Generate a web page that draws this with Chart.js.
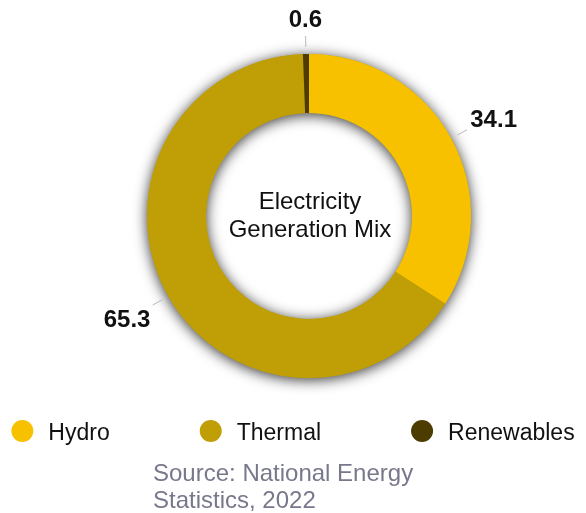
<!DOCTYPE html>
<html>
<head>
<meta charset="utf-8">
<title>Electricity Generation Mix</title>
<script src="https://cdn.jsdelivr.net/npm/chart.js@4.4.1/dist/chart.umd.min.js"></script>
<style>
  html, body { margin: 0; padding: 0; background: #fff; }
  #wrap { width: 586px; height: 513px; position: relative; }
</style>
</head>
<body>
<div id="wrap"><canvas id="mix"></canvas></div>
<script>
const labels = ['Hydro', 'Thermal', 'Renewables'];
const shares = [34.1, 65.3, 0.6];
const colors = ['#f8c100', '#bf9e06', '#4d3c00'];
const centerLines = ['Electricity', 'Generation Mix'];
const sourceLines = ['Source: National Energy', 'Statistics, 2022'];

const FONT = '"Liberation Sans", Arial, Helvetica, sans-serif';

// soft shadow under the whole ring (drawn once so slices don't shade each other)
const ringShadow = {
  id: 'ringShadow',
  beforeDatasetsDraw(chart) {
    const arc = chart.getDatasetMeta(0).data[0];
    if (!arc) return;
    const { x, y, outerRadius, innerRadius } = arc.getProps(['x', 'y', 'outerRadius', 'innerRadius'], true);
    const ctx = chart.ctx;
    ctx.save();
    ctx.shadowColor = 'rgba(0,0,0,0.8)';
    ctx.shadowBlur = 14;
    ctx.shadowOffsetY = 2;
    ctx.fillStyle = colors[1];
    ctx.beginPath();
    ctx.arc(x, y, outerRadius, 0, Math.PI * 2);
    ctx.arc(x, y, innerRadius, 0, Math.PI * 2, true);
    ctx.fill();
    ctx.restore();
  }
};

// value labels outside the ring with a short leader line
const sliceLabels = {
  id: 'sliceLabels',
  afterDatasetsDraw(chart) {
    const ctx = chart.ctx;
    chart.getDatasetMeta(0).data.forEach((arc, i) => {
      const { x, y, startAngle, endAngle, outerRadius } =
        arc.getProps(['x', 'y', 'startAngle', 'endAngle', 'outerRadius'], true);
      const mid = (startAngle + endAngle) / 2;
      const cos = Math.cos(mid), sin = Math.sin(mid);

      ctx.save();
      ctx.strokeStyle = '#b8b8b8';
      ctx.lineWidth = 1;
      ctx.beginPath();
      ctx.moveTo(x + cos * (outerRadius + 7), y + sin * (outerRadius + 7));
      ctx.lineTo(x + cos * (outerRadius + 18), y + sin * (outerRadius + 18));
      ctx.stroke();

      const side = Math.abs(cos) > 0.25;
      const r = outerRadius + (side ? 24 : 27);
      ctx.font = 'bold 24px ' + FONT;
      ctx.fillStyle = '#111';
      ctx.textAlign = side ? (cos > 0 ? 'left' : 'right') : 'center';
      ctx.textBaseline = sin < 0 ? 'alphabetic' : 'top';
      ctx.fillText(shares[i].toFixed(1), x + cos * r + (side ? (cos > 0 ? -2 : 3) : 0), y + sin * r);
      ctx.restore();
    });
  }
};

// title in the hole, legend row and source note
const extras = {
  id: 'extras',
  afterDraw(chart) {
    const ctx = chart.ctx;
    const arc = chart.getDatasetMeta(0).data[0];
    const cx = arc.x, cy = arc.y;

    ctx.save();
    ctx.font = '24px ' + FONT;
    ctx.fillStyle = '#111';
    ctx.textAlign = 'center';
    ctx.textBaseline = 'alphabetic';
    ctx.fillText(centerLines[0], cx + 1, cy - 7);
    ctx.fillText(centerLines[1], cx + 1, cy + 21);

    // legend
    ctx.font = '23px ' + FONT;
    ctx.textAlign = 'left';
    const dot = 11, gap = 15, between = 90;
    const widths = labels.map(l => ctx.measureText(l).width);
    const total = widths.reduce((s, w) => s + w + dot * 2 + gap, 0) + between * (labels.length - 1);
    let lx = (chart.width - total) / 2;
    const ly = 431;
    labels.forEach((l, i) => {
      ctx.fillStyle = colors[i];
      ctx.beginPath();
      ctx.arc(lx + dot, ly, dot, 0, Math.PI * 2);
      ctx.fill();
      ctx.fillStyle = '#111';
      ctx.fillText(l, lx + dot * 2 + gap, ly + 9);
      lx += dot * 2 + gap + widths[i] + between;
    });

    // source
    ctx.font = '24px ' + FONT;
    ctx.fillStyle = '#78788c';
    sourceLines.forEach((s, i) => ctx.fillText(s, 153, 481 + i * 27));
    ctx.restore();
  }
};

new Chart(document.getElementById('mix'), {
  type: 'doughnut',
  data: {
    labels,
    datasets: [{
      data: shares,
      backgroundColor: colors,
      borderWidth: 0,
      hoverOffset: 0
    }]
  },
  options: {
    responsive: true,
    maintainAspectRatio: false,
    animation: false,
    radius: 162,
    cutout: 103,
    layout: { padding: { left: 147, right: 115, top: 54, bottom: 135 } },
    plugins: {
      legend: { display: false },
      tooltip: { enabled: false }
    }
  },
  plugins: [ringShadow, sliceLabels, extras]
});
</script>
</body>
</html>
